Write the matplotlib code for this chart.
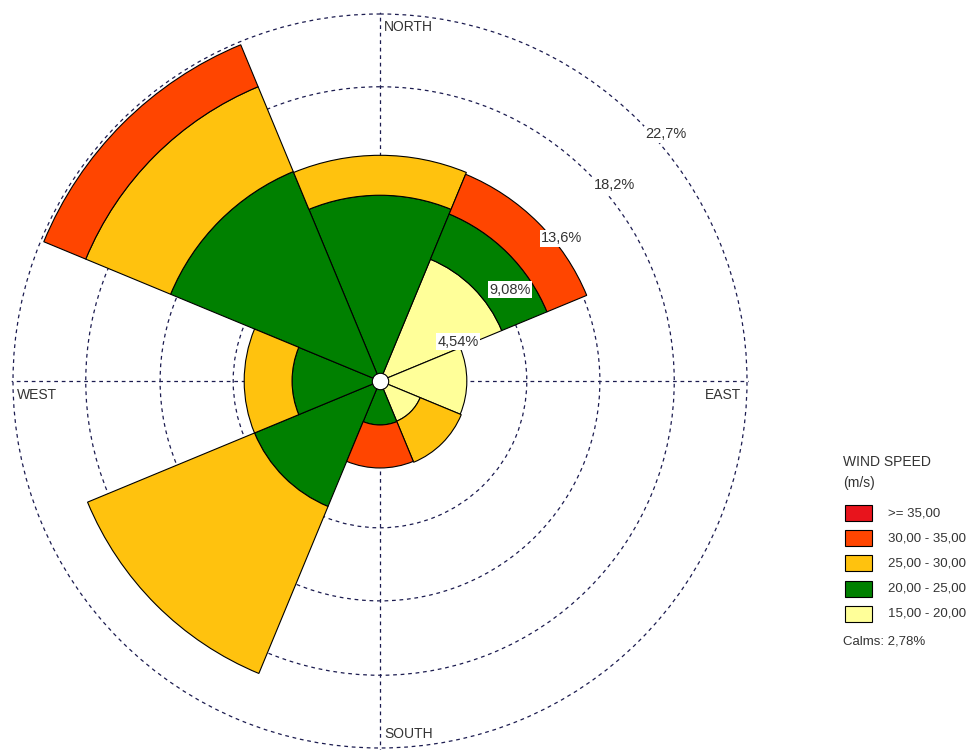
import numpy as np
import matplotlib
matplotlib.use("Agg")
import matplotlib.pyplot as plt
from matplotlib.patches import Rectangle

plt.rcParams['font.family'] = ['Liberation Sans', 'DejaVu Sans']

# ---------------- data ----------------
directions = ['N', 'NE', 'E', 'SE', 'S', 'SW', 'W', 'NW']
dir_deg = [0, 45, 90, 135, 180, 225, 270, 315]

bins = ['15,00 - 20,00', '20,00 - 25,00', '25,00 - 30,00', '30,00 - 35,00', '>= 35,00']
s15_20 = [0.00, 8.15, 5.37, 2.69, 0.00, 0.00, 0.00, 0.00]
s20_25 = [11.49, 3.03, 0.00, 0.00, 2.72, 8.40, 5.44, 14.02]
s25_30 = [2.47, 0.00, 0.00, 2.75, 0.00, 11.18, 2.96, 5.68]
s30_35 = [0.00, 2.66, 0.00, 0.00, 2.66, 0.00, 0.00, 2.81]
s35 = [0.00, 0.00, 0.00, 0.00, 0.00, 0.00, 0.00, 0.00]
series = [s15_20, s20_25, s25_30, s30_35, s35]
colors = ['#FFFF99', '#008000', '#FFC20E', '#FF4500', '#E8141C']

ring_vals = [4.54, 9.08, 13.6, 18.2, 22.7]
ring_labels = ['4,54%', '9,08%', '13,6%', '18,2%', '22,7%']
calms_text = 'Calms: 2,78%'
legend_title = 'WIND SPEED\n(m/s)'
card_labels = ['NORTH', 'EAST', 'SOUTH', 'WEST']

# ---------------- figure ----------------
W, H = 971, 751
fig = plt.figure(figsize=(W / 100, H / 100), dpi=100)
rmax = 22.8
R_px = 367 * rmax / 22.7
cx, cy = 380, 381
ax = fig.add_axes([(cx - R_px) / W, (H - cy - R_px) / H, 2 * R_px / W, 2 * R_px / H],
                  projection='polar')
ax.set_theta_zero_location('N')
ax.set_theta_direction(-1)
ax.set_ylim(0, rmax)
ax.spines['polar'].set_visible(False)
ax.set_axisbelow(True)
grid_col = '#1c1c50'
ax.set_rgrids(ring_vals, labels=[''] * len(ring_vals))
ax.set_thetagrids([0, 90, 180, 270], labels=[''] * 4)
ax.grid(True, linestyle=(0, (3, 3)), color=grid_col, linewidth=0.9)

theta = np.deg2rad(dir_deg)
width = np.deg2rad(45)
bottom = np.zeros(len(directions))
for vals, col in zip(series, colors):
    vals = np.asarray(vals)
    m = vals > 0
    ax.bar(theta[m], vals[m], width=width, bottom=bottom[m], color=col,
           edgecolor='black', linewidth=0.8, zorder=3)
    bottom = bottom + vals

# calm circle
ax.scatter([0], [0], s=140, c='white', edgecolors='black', linewidths=0.8, zorder=6)

txt_col = '#333333'
# ring labels along the NE diagonal
for rv, lab in zip(ring_vals, ring_labels):
    ax.annotate(lab, xy=(np.deg2rad(45), rv), xytext=(4, -4), textcoords='offset points',
                ha='left', va='top', fontsize=10.5, color=txt_col, zorder=7,
                bbox=dict(boxstyle='square,pad=0.1', fc='white', ec='none'))

# cardinal labels
rr = 22.7
ax.annotate(card_labels[0], xy=(0, rr), xytext=(3, -4), textcoords='offset points',
            ha='left', va='top', fontsize=10, color=txt_col)
ax.annotate(card_labels[1], xy=(np.pi / 2, rr), xytext=(-4, -5), textcoords='offset points',
            ha='right', va='top', fontsize=10, color=txt_col)
ax.annotate(card_labels[2], xy=(np.pi, rr), xytext=(3, 5), textcoords='offset points',
            ha='left', va='bottom', fontsize=10, color=txt_col)
ax.annotate(card_labels[3], xy=(3 * np.pi / 2, rr), xytext=(3, -5), textcoords='offset points',
            ha='left', va='top', fontsize=10, color=txt_col)

# ---------------- legend (pixel layout) ----------------
lax = fig.add_axes([0, 0, 1, 1])
lax.set_xlim(0, W)
lax.set_ylim(H, 0)
lax.axis('off')
lax.text(843, 455, legend_title, ha='left', va='top', fontsize=10, color=txt_col,
         linespacing=1.6)
y0 = 505
for i, (lab, col) in enumerate(zip(bins[::-1], colors[::-1])):
    y = y0 + i * 25.2
    lax.add_patch(Rectangle((845, y), 27, 16, facecolor=col, edgecolor='black', linewidth=0.8))
    lax.text(888, y + 8, lab, ha='left', va='center', fontsize=9.5, color=txt_col)
lax.text(843, 642, calms_text, ha='left', va='center', fontsize=9.5, color=txt_col)

fig.savefig('out.png', dpi=100)
